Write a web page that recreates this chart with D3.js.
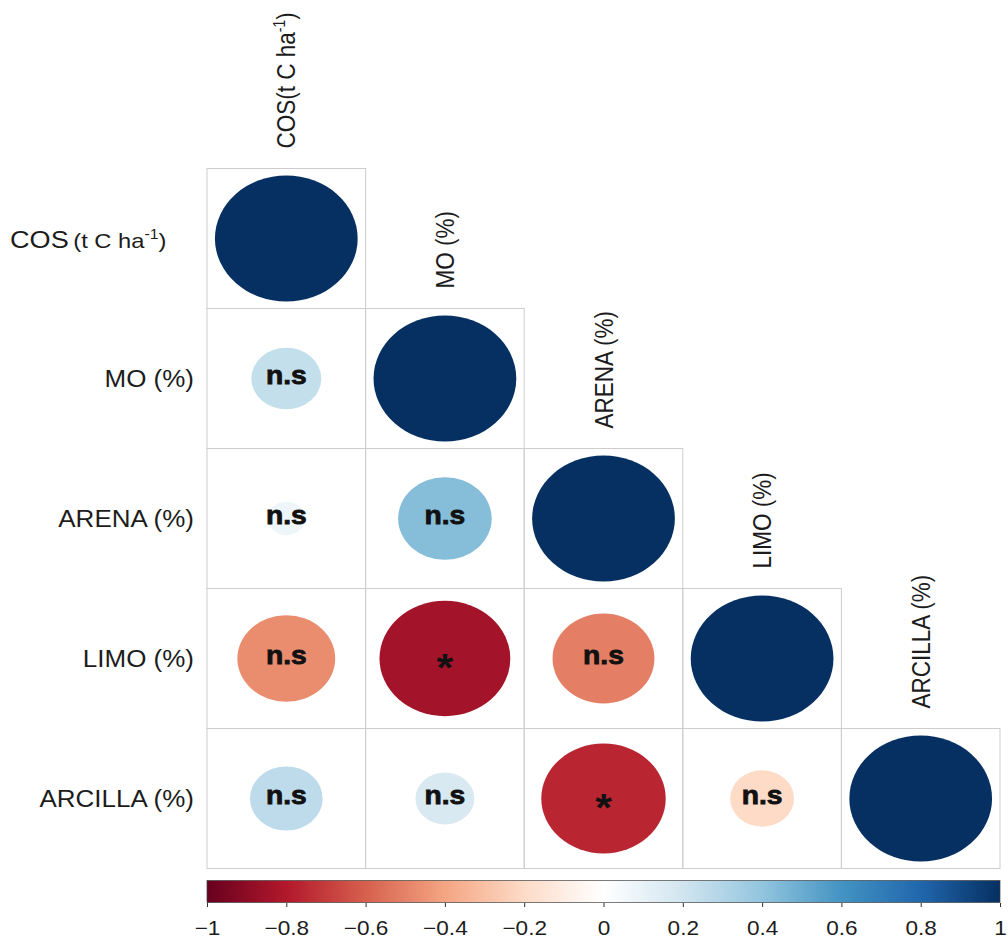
<!DOCTYPE html>
<html>
<head>
<meta charset="utf-8">
<script src="https://cdn.jsdelivr.net/npm/d3@7"></script>
<style>
  body { margin: 0; background: #fff; }
  svg { display: block; }
  text { font-family: "Liberation Sans", Arial, sans-serif; fill: #1c1c1c; }
</style>
</head>
<body>
<svg id="chart" width="1008" height="942"></svg>
<script>
// Variables of the soil correlation matrix (lower triangle)
const variables = ["COS", "MO", "ARENA", "LIMO", "ARCILLA"];
const axisLabels = ["COS", "MO (%)", "ARENA (%)", "LIMO (%)", "ARCILLA (%)"];

// Pearson correlations, one array per row (columns up to the diagonal)
const corrCOS     = [1];
const corrMO      = [0.24, 1];
const corrARENA   = [0.07, 0.43, 1];
const corrLIMO    = [-0.47, -0.84, -0.51, 1];
const corrARCILLA = [0.26, 0.17, -0.76, -0.20, 1];

// Significance marks for each cell ("" on the diagonal)
const sigCOS     = [""];
const sigMO      = ["n.s", ""];
const sigARENA   = ["n.s", "n.s", ""];
const sigLIMO    = ["n.s", "*", "n.s", ""];
const sigARCILLA = ["n.s", "n.s", "*", "n.s", ""];

// Colour legend ticks
const legendTicks = [-1, -0.8, -0.6, -0.4, -0.2, 0, 0.2, 0.4, 0.6, 0.8, 1];

// Diverging RdBu palette (corrplot default)
const palette = ["#67001F", "#B2182B", "#D6604D", "#F4A582", "#FDDBC7", "#FFFFFF",
                 "#D1E5F0", "#92C5DE", "#4393C3", "#2166AC", "#053061"];

const corrRows = [corrCOS, corrMO, corrARENA, corrLIMO, corrARCILLA];
const sigRows  = [sigCOS, sigMO, sigARENA, sigLIMO, sigARCILLA];

const svg = d3.select("#chart");
const SX = 1.13; // horizontal stretch of the glyphs

const x = d3.scaleBand().domain(variables).range([207, 1000]);
const y = d3.scaleBand().domain(variables).range([168.5, 868.5]);
const bw = x.bandwidth(), bh = y.bandwidth();

const color = d3.scaleLinear()
  .domain(palette.map((_, i) => -1 + i * 0.2))
  .range(palette);

const cells = [];
corrRows.forEach((vals, i) => vals.forEach((r, j) => {
  cells.push({ row: variables[i], col: variables[j], r, sig: sigRows[i][j] });
}));

// cell frames
svg.append("g").selectAll("rect")
  .data(cells).join("rect")
  .attr("x", d => x(d.col))
  .attr("y", d => y(d.row))
  .attr("width", bw)
  .attr("height", bh)
  .attr("fill", "none")
  .attr("stroke", "#cdcdcd")
  .attr("stroke-width", 1);

// correlation ellipses (area proportional to |r|)
svg.append("g").selectAll("ellipse")
  .data(cells).join("ellipse")
  .attr("cx", d => x(d.col) + bw / 2)
  .attr("cy", d => y(d.row) + bh / 2)
  .attr("rx", d => 0.45 * bw * Math.sqrt(Math.abs(d.r)))
  .attr("ry", d => 0.45 * bh * Math.sqrt(Math.abs(d.r)))
  .attr("fill", d => color(d.r));

// significance marks
const sigG = svg.append("g");
sigG.selectAll("text")
  .data(cells.filter(d => d.sig !== ""))
  .join("text")
  .attr("text-anchor", "middle")
  .attr("transform", d => {
    const cx = x(d.col) + bw / 2, cy = y(d.row) + bh / 2;
    const dy = d.sig === "*" ? 22 : 5;
    return `translate(${cx},${cy + dy}) scale(${SX},1)`;
  })
  .style("font-size", d => d.sig === "*" ? "38px" : "25px")
  .style("font-weight", "bold")
  .style("fill", "#111")
  .style("stroke", "#111")
  .style("stroke-width", d => d.sig === "*" ? 0 : 0.8)
  .text(d => d.sig);

// row labels (left)
const rowG = svg.append("g");
variables.forEach((v, i) => {
  const cy = y(v) + bh / 2;
  if (i === 0) {
    const t = rowG.append("text")
      .attr("transform", `translate(10,${cy + 9}) scale(${SX},1)`)
      .attr("text-anchor", "start");
    t.append("tspan").style("font-size", "24px").text("COS");
    t.append("tspan").style("font-size", "21px").attr("dx", 4).text("(t C ha");
    t.append("tspan").style("font-size", "14px").attr("dy", -9).text("-1");
    t.append("tspan").style("font-size", "21px").attr("dy", 9).text(")");
  } else {
    rowG.append("text")
      .attr("transform", `translate(194,${cy + 8}) scale(${SX},1)`)
      .attr("text-anchor", "end")
      .style("font-size", "23px")
      .text(axisLabels[i]);
  }
});

// column labels, rotated, above each diagonal cell
const colG = svg.append("g");
variables.forEach((v, i) => {
  const cx = x(v) + bw / 2;
  const top = y(v);
  const t = colG.append("text")
    .attr("transform", `translate(${cx + 9},${top - 20}) rotate(-90) scale(1,${SX})`)
    .attr("text-anchor", "start")
    .style("font-size", "22.5px");
  if (i === 0) {
    t.append("tspan").text("COS(t C ha");
    t.append("tspan").style("font-size", "14px").attr("dy", -9).text("-1");
    t.append("tspan").attr("dy", 9).text(")");
  } else {
    t.text(axisLabels[i]);
  }
});

// colour legend
const legendScale = d3.scaleLinear().domain([-1, 1]).range([207, 1000]);
const defs = svg.append("defs");
const grad = defs.append("linearGradient").attr("id", "corrGrad")
  .attr("x1", "0%").attr("x2", "100%").attr("y1", "0%").attr("y2", "0%");
grad.selectAll("stop")
  .data(d3.range(0, 101))
  .join("stop")
  .attr("offset", d => d + "%")
  .attr("stop-color", d => color(-1 + d / 50));

svg.append("rect")
  .attr("x", legendScale(-1))
  .attr("y", 880.5)
  .attr("width", legendScale(1) - legendScale(-1))
  .attr("height", 22)
  .attr("fill", "url(#corrGrad)")
  .attr("stroke", "#444")
  .attr("stroke-width", 0.7);

const axisG = svg.append("g")
  .attr("transform", "translate(0,903)")
  .call(d3.axisBottom(legendScale)
    .tickValues(legendTicks)
    .tickSize(4)
    .tickPadding(14)
    .tickFormat(d3.format("~g")));
axisG.select(".domain").remove();
axisG.selectAll(".tick line").attr("stroke", "#333");
axisG.selectAll(".tick text")
  .attr("transform", `scale(${SX},1)`)
  .style("font-size", "20px")
  .style("font-family", "'Liberation Sans', Arial, sans-serif")
  .attr("fill", "#1c1c1c");
</script>
</body>
</html>
